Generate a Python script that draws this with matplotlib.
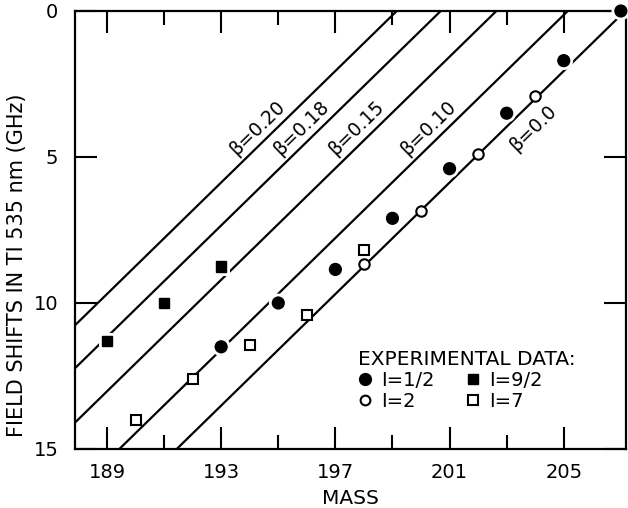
import numpy as np
import matplotlib
matplotlib.use("Agg")
import matplotlib.pyplot as plt
import matplotlib.patheffects as pe
from matplotlib.lines import Line2D

# measured points (mass, field shift in GHz)
mass_half = [193, 195, 197, 199, 201, 203, 205, 207]
shift_half = [11.5, 10.0, 8.85, 7.1, 5.4, 3.5, 1.7, 0.0]
mass_two = [198, 200, 202, 204]
shift_two = [8.65, 6.85, 4.9, 2.9]
mass_ninehalf = [189, 191, 193]
shift_ninehalf = [11.3, 10.0, 8.75]
mass_seven = [190, 192, 194, 196, 198]
shift_seven = [14.0, 12.6, 11.45, 10.4, 8.2]

# beta lines: shift = slope * (zero_mass - mass)
beta_labels = ["0.20", "0.18", "0.15", "0.10", "0.0"]
zero_mass = [199.15, 200.69, 202.64, 205.14, 207.15]
slope = 0.955

plt.rcParams['font.family'] = ['DejaVu Sans']

fig = plt.figure(figsize=(6.28, 5.08), dpi=100)
ax = fig.add_axes([75/628, 59/508, 551/628, 438/508])
ax.set_xlim(187.88, 207.18)
ax.set_ylim(15, 0)

xs = np.linspace(186, 209, 50)
for x0 in zero_mass:
    ax.plot(xs, slope*(x0 - xs), color='black', lw=1.6, zorder=2)

halo = [pe.withStroke(linewidth=5, foreground='white')]
ax.plot(mass_half, shift_half, 'o', ms=8.5, mfc='black', mec='black',
        path_effects=halo, zorder=4, clip_on=False)
ax.plot(mass_two, shift_two, 'o', ms=7.5, mfc='white', mec='black', mew=1.5, zorder=4)
ax.plot(mass_ninehalf, shift_ninehalf, 's', ms=7.5, mfc='black', mec='black',
        path_effects=halo, zorder=4)
ax.plot(mass_seven, shift_seven, 's', ms=7.5, mfc='white', mec='black', mew=1.5, zorder=4)

# label the beta lines
fig.canvas.draw()
p1 = ax.transData.transform((195, 0))
p2 = ax.transData.transform((196, -slope))
ang = np.degrees(np.arctan2(p2[1]-p1[1], p2[0]-p1[0]))
for lab, x0 in zip(beta_labels, zero_mass):
    y = 4.0
    dx = 0.95 if lab == "0.0" else -0.7
    ax.text(x0 - y/slope + dx, y, "β=" + lab, rotation=ang, rotation_mode='anchor',
            ha='center', va='center', fontsize=13.5)

ax.set_xticks([189, 193, 197, 201, 205])
ax.set_xticks([191, 195, 199, 203], minor=True)
ax.set_yticks([0, 5, 10, 15])
ax.tick_params(which='both', direction='in', top=True, right=True, width=1.5,
               labelsize=14)
ax.tick_params(which='major', length=16)
ax.tick_params(which='minor', length=10)
ax.tick_params(axis='x', pad=10)
ax.tick_params(axis='y', pad=12)
for s in ax.spines.values():
    s.set_linewidth(1.6)

ax.set_xlabel("MASS", fontsize=14.5, labelpad=5)
ax.set_ylabel("FIELD SHIFTS IN TI 535 nm (GHz)", fontsize=15)
ax.yaxis.set_label_coords(-0.088, 0.42)

handles = [
    Line2D([], [], ls='', marker='o', ms=8.5, mfc='black', mec='black'),
    Line2D([], [], ls='', marker='o', ms=7, mfc='white', mec='black', mew=1.5),
    Line2D([], [], ls='', marker='s', ms=7.5, mfc='black', mec='black'),
    Line2D([], [], ls='', marker='s', ms=7, mfc='white', mec='black', mew=1.5),
]
labels = ["I=1/2", "I=2", "I=9/2", "I=7"]
leg = ax.legend(handles, labels, ncol=2, title="EXPERIMENTAL DATA:", frameon=False,
                loc='upper left', bbox_to_anchor=(0.496, 0.248), fontsize=14,
                title_fontsize=14.5, handlelength=0.7, handletextpad=0.5,
                columnspacing=1.6, labelspacing=0.1, borderpad=0,
                alignment='left')

fig.savefig("out.png", dpi=100)
